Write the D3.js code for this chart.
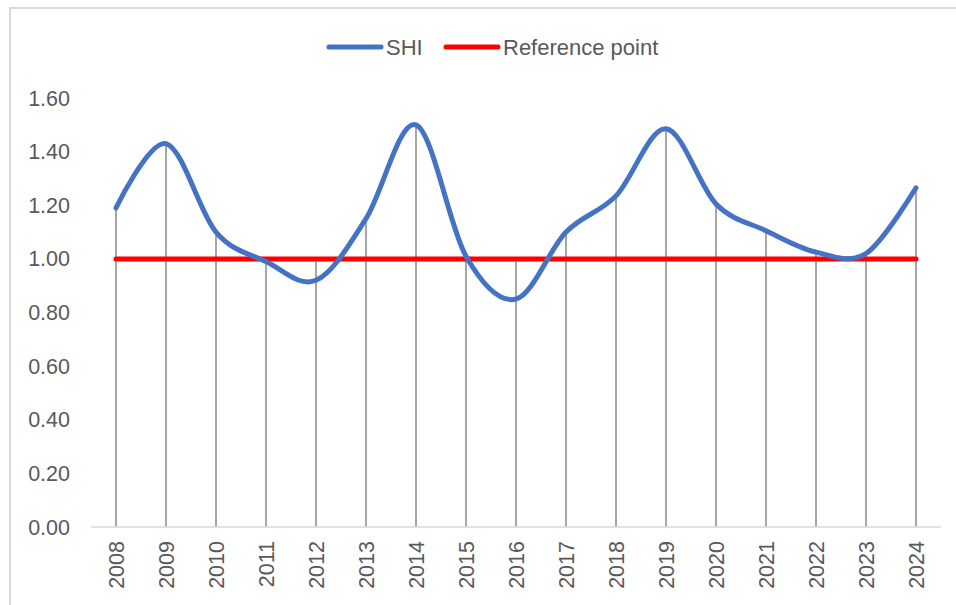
<!DOCTYPE html>
<html>
<head>
  <meta charset="utf-8">
  <script src="https://cdn.jsdelivr.net/npm/d3@7"></script>
  <style>
    body { margin: 0; background: #fff; font-family: "Liberation Sans", Arial, sans-serif; }
  </style>
</head>
<body>
  <div id="container"></div>
  <script>
    // data
    const years = ["2008", "2009", "2010", "2011", "2012", "2013", "2014", "2015", "2016",
      "2017", "2018", "2019", "2020", "2021", "2022", "2023", "2024"]
    const shi = [1.19, 1.43, 1.10, 0.99, 0.92, 1.15, 1.50, 1.01, 0.85,
      1.10, 1.235, 1.485, 1.205, 1.105, 1.025, 1.02, 1.265]
    const reference = years.map(() => 1.00)
    const yTicks = [0, 0.2, 0.4, 0.6, 0.8, 1.0, 1.2, 1.4, 1.6]

    const width = 956, height = 605
    const textColor = "#595959"

    const svg = d3.select("#container").append("svg")
      .attr("width", width)
      .attr("height", height)

    // chart area border (runs off the right and bottom of the picture)
    svg.append("rect")
      .attr("x", 10).attr("y", 8)
      .attr("width", 960).attr("height", 620)
      .attr("fill", "none")
      .attr("stroke", "#d9d9d9")
      .attr("stroke-width", 2)

    const x = d3.scalePoint().domain(years).range([91, 941]).padding(0.5)
    const y = d3.scaleLinear().domain([0, 1.6]).range([527, 98])

    // y tick labels
    svg.append("g").selectAll("text")
      .data(yTicks)
      .join("text")
      .attr("x", 70)
      .attr("y", d => y(d))
      .attr("dy", "0.35em")
      .attr("text-anchor", "end")
      .attr("font-size", 21.5)
      .attr("fill", textColor)
      .text(d => d3.format(".2f")(d))

    // drop lines go from the highest series value down to the axis
    svg.append("g").selectAll("line")
      .data(years)
      .join("line")
      .attr("x1", d => x(d)).attr("x2", d => x(d))
      .attr("y1", y(0))
      .attr("y2", (d, i) => y(Math.max(shi[i], reference[i])))
      .attr("stroke", "#a6a6a6")
      .attr("stroke-width", 2)

    // category axis line
    svg.append("line")
      .attr("x1", 91).attr("x2", 941)
      .attr("y1", y(0)).attr("y2", y(0))
      .attr("stroke", "#d9d9d9")
      .attr("stroke-width", 1.5)

    // x tick labels, rotated
    svg.append("g").selectAll("text")
      .data(years)
      .join("text")
      .attr("transform", d => `translate(${x(d)},541) rotate(-90)`)
      .attr("dy", "0.36em")
      .attr("text-anchor", "end")
      .attr("font-size", 21.5)
      .attr("fill", textColor)
      .text(d => d)

    // reference line
    svg.append("path")
      .datum(reference)
      .attr("fill", "none")
      .attr("stroke", "#ff0000")
      .attr("stroke-width", 5)
      .attr("stroke-linecap", "round")
      .attr("d", d3.line().x((d, i) => x(years[i])).y(d => y(d)))

    // smoothed SHI line
    svg.append("path")
      .datum(shi)
      .attr("fill", "none")
      .attr("stroke", "#4472c4")
      .attr("stroke-width", 5)
      .attr("stroke-linecap", "round")
      .attr("d", d3.line().curve(d3.curveCardinal.tension(0)).x((d, i) => x(years[i])).y(d => y(d)))

    // legend
    const legend = [
      { name: "SHI", color: "#4472c4", x: 329 },
      { name: "Reference point", color: "#ff0000", x: 446 }
    ]
    const lg = svg.append("g").selectAll("g")
      .data(legend)
      .join("g")
      .attr("transform", d => `translate(${d.x},47)`)
    lg.append("line")
      .attr("x1", 0).attr("x2", 52)
      .attr("stroke", d => d.color)
      .attr("stroke-width", 5)
      .attr("stroke-linecap", "round")
    lg.append("text")
      .attr("x", 57)
      .attr("dy", "0.36em")
      .attr("font-size", 22)
      .attr("fill", textColor)
      .text(d => d.name)
  </script>
</body>
</html>
